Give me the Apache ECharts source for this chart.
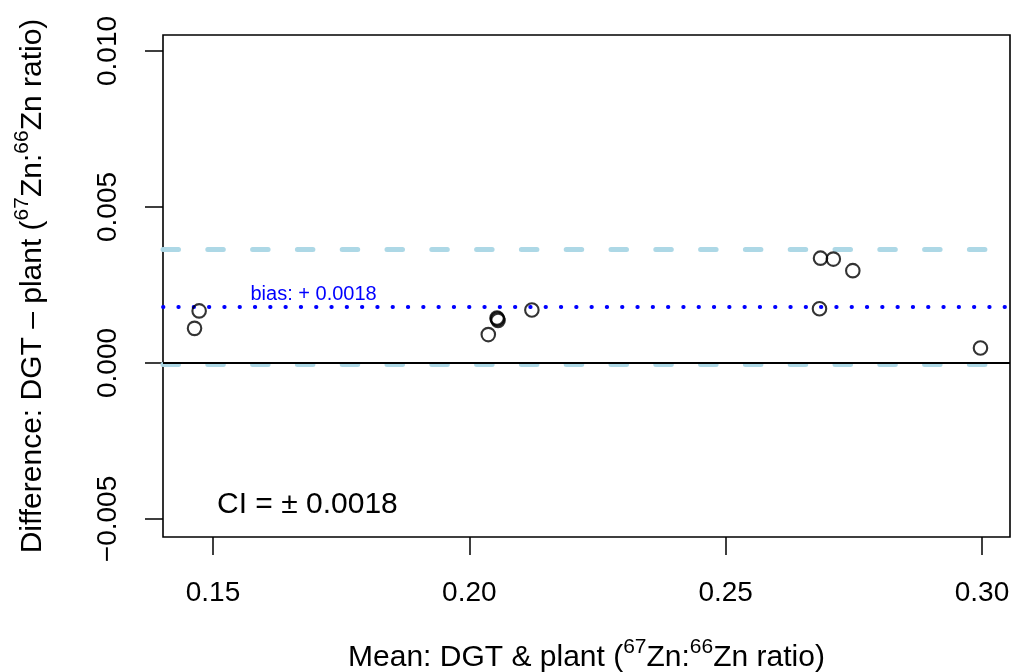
<!DOCTYPE html>
<html>
<head>
<meta charset="utf-8">
<script src="https://cdn.jsdelivr.net/npm/echarts@6/dist/echarts.min.js"></script>
<style>html,body{margin:0;padding:0;background:#fff}#c{width:1013px;height:672px}</style>
</head>
<body>
<div id="c"></div>
<script>
// ---- data ----
const meanValues = [0.1473, 0.1464, 0.2037, 0.2054, 0.2055, 0.2056, 0.2122, 0.2685, 0.2710, 0.2748, 0.2683, 0.2997];
const diffValues = [0.00167, 0.00111, 0.00091, 0.00144, 0.00141, 0.00136, 0.00170, 0.00336, 0.00333, 0.00296, 0.00174, 0.00048];
const bias = 0.0018;
const ciHalf = 0.0018;
const loaUpper = 0.00363;
const loaLower = -0.00003;
const xTickValues = [0.15, 0.20, 0.25, 0.30];
const xTickLabels = ['0.15', '0.20', '0.25', '0.30'];
const yTickValues = [-0.005, 0, 0.005, 0.010];
const yTickLabels = ['\u22120.005', '0.000', '0.005', '0.010'];

const FF = '"Liberation Sans", Arial, Helvetica, sans-serif';
function lookup(vals, labs) {
  return function (v) {
    for (let i = 0; i < vals.length; i++) if (Math.abs(vals[i] - v) < 1e-9) return labs[i];
    return '';
  };
}
const rich = {
  n: { fontSize: 30, lineHeight: 42, fontFamily: FF, color: '#000' },
  s: { fontSize: 21, lineHeight: 16, verticalAlign: 'top', fontFamily: FF, color: '#000' }
};
const pts = meanValues.map((x, i) => [x, diffValues[i]]);

const chart = echarts.init(document.getElementById('c'), null, { renderer: 'canvas' });
chart.setOption({
  animation: false,
  backgroundColor: '#fff',
  grid: { left: 163, right: 3, top: 35, bottom: 135, show: true, borderColor: '#000', borderWidth: 1.6, backgroundColor: 'transparent', containLabel: false, outerBoundsMode: 'none' },
  xAxis: {
    type: 'value', min: 0.14025, max: 0.30546,
    axisLine: { show: false, onZero: false },
    splitLine: { show: false },
    axisTick: { show: true, inside: false, length: 18, customValues: xTickValues, lineStyle: { color: '#000', width: 1.5 } },
    axisLabel: { customValues: xTickValues, formatter: lookup(xTickValues, xTickLabels), fontSize: 28, fontFamily: FF, color: '#000', margin: 56, verticalAlign: 'middle' },
    name: '{n|Mean: DGT & plant (}{s|67}{n|Zn:}{s|66}{n|Zn ratio)}',
    nameLocation: 'middle', nameGap: 121,
    nameTextStyle: { rich: rich, verticalAlign: 'middle', align: 'center' }
  },
  yAxis: {
    type: 'value', min: -0.005577, max: 0.010513,
    axisLine: { show: false, onZero: false },
    splitLine: { show: false },
    axisTick: { show: true, inside: false, length: 18, customValues: yTickValues, lineStyle: { color: '#000', width: 1.5 } },
    axisLabel: { customValues: yTickValues, formatter: lookup(yTickValues, yTickLabels), fontSize: 28, fontFamily: FF, color: '#000', margin: 55, rotate: 90, align: 'center', verticalAlign: 'middle' },
    name: '{n|Difference: DGT \u2013 plant (}{s|67}{n|Zn:}{s|66}{n|Zn ratio)}',
    nameLocation: 'middle', nameGap: 130,
    nameTextStyle: { rich: rich, verticalAlign: 'middle', align: 'center' }
  },
  series: [{
    type: 'scatter',
    data: pts,
    symbol: 'circle',
    symbolSize: 13.5,
    silent: true,
    itemStyle: { color: 'rgba(0,0,0,0)', borderColor: '#000', borderWidth: 2.1 },
    z: 5,
    markLine: {
      silent: true, symbol: ['none', 'none'], label: { show: false }, animation: false, precision: 8,
      data: [
        { yAxis: loaUpper, lineStyle: { color: '#ADD8E6', width: 5, type: [15.5, 29.3], cap: 'round', dashOffset: 0 } },
        { yAxis: loaLower, lineStyle: { color: '#ADD8E6', width: 5, type: [15.5, 29.3], cap: 'round', dashOffset: 0 } },
        { yAxis: bias, lineStyle: { color: '#0000FF', width: 3.8, type: [0.5, 14.8], cap: 'round' } },
        { yAxis: 0, lineStyle: { color: '#000', width: 1.8, type: 'solid' } }
      ]
    }
  }],
  graphic: [
    { type: 'text', x: 250.5, y: 294, silent: true, style: { text: 'bias: + ' + bias.toFixed(4), fill: '#0000FF', font: '20px ' + FF, align: 'left', verticalAlign: 'middle' } },
    { type: 'text', x: 217, y: 505, silent: true, style: { text: 'CI = \u00b1 ' + ciHalf.toFixed(4), fill: '#000', font: '30px ' + FF, align: 'left', verticalAlign: 'middle' } }
  ]
});
</script>
</body>
</html>
